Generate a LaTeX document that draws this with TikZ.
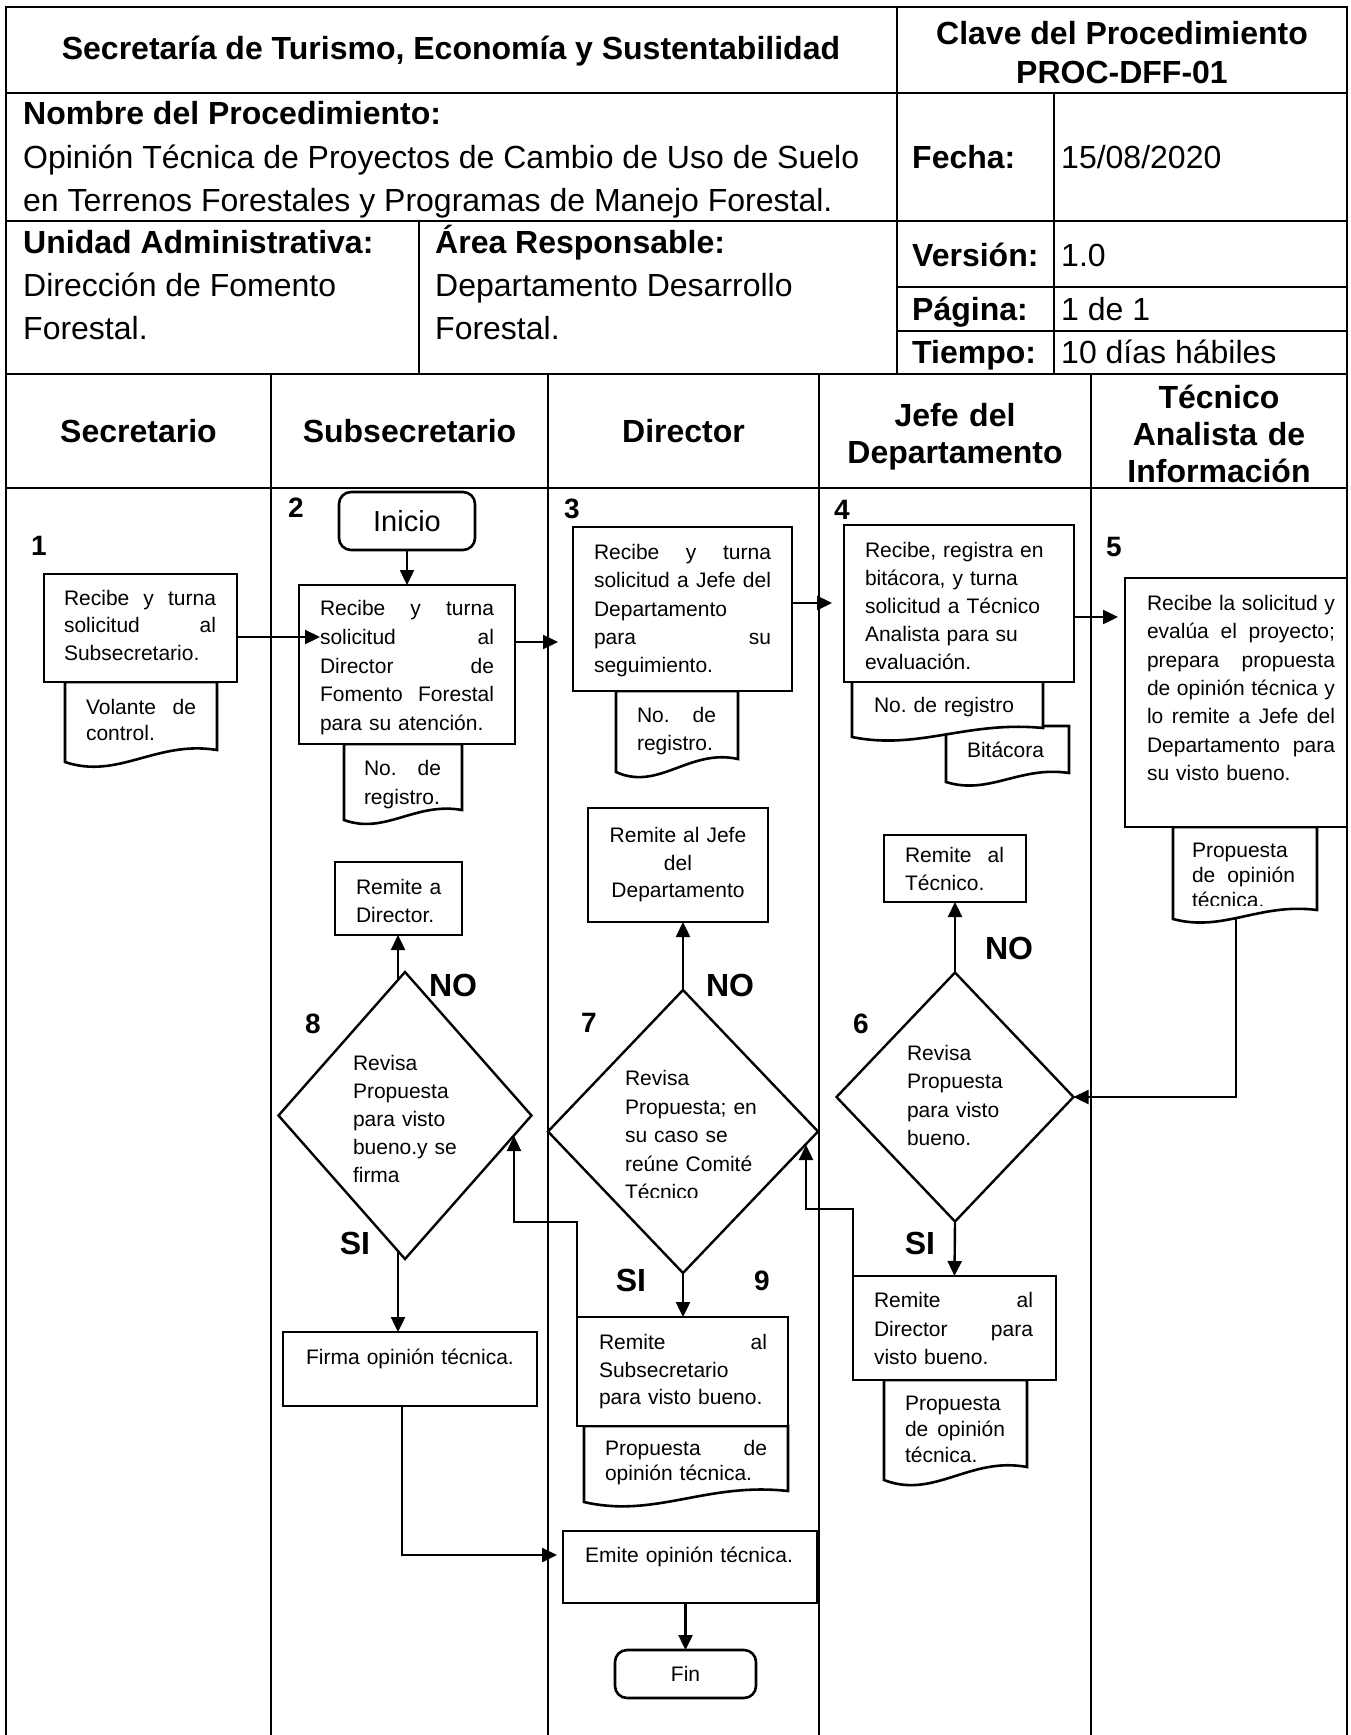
\documentclass[tikz,border=0pt]{standalone}
\usepackage{fontspec}
\setmainfont{Liberation Sans}
\usetikzlibrary{arrows.meta,shapes.geometric}
\newcommand\jl[2]{\makebox[#1][s]{\spaceskip=0.278em plus 1fil\relax\xspaceskip=0.278em plus 1fil\relax #2}}
\newcommand\docshp[5]{%
  \pgfmathsetmacro\mydw{#3-#1}%
  \draw[docst] (#1,#2) -- (#3,#2) -- (#3,{#4-#5}) .. controls ({#1+0.6*\mydw},{#4-1.83*#5}) and ({#1+0.35*\mydw},{#4+1.5*#5}) .. (#1,#4) -- cycle;}
\tikzset{
 frm/.style={line width=2.6pt},
 boxst/.style={draw, line width=2.6pt, fill=white, inner sep=0pt, outer sep=0pt},
 termst/.style={boxst, rounded corners=12pt},
 decst/.style={draw, diamond, line width=2.4pt, fill=white, inner sep=0pt, outer sep=0pt},
 docst/.style={line width=2.6pt, fill=white},
 conn/.style={line width=2.4pt},
 arr/.style={conn, -{Triangle[length=15pt,width=14pt]}},
 tx/.style={anchor=base west, inner sep=0pt, outer sep=0pt, align=left, font=\fontsize{21}{28}\selectfont},
 txc/.style={anchor=base, inner sep=0pt, outer sep=0pt, align=center, font=\fontsize{21}{28}\selectfont},
 hd/.style={anchor=base west, inner sep=0pt, font=\fontsize{32}{43}\selectfont},
 hdb/.style={anchor=base west, inner sep=0pt, font=\bfseries\fontsize{32}{43}\selectfont},
 hdc/.style={anchor=base, inner sep=0pt, font=\bfseries\fontsize{32}{43}\selectfont},
 lane/.style={anchor=base, inner sep=0pt, align=center, text width=260pt, font=\bfseries\fontsize{32}{37}\selectfont},
 num/.style={anchor=base, inner sep=0pt, font=\bfseries\fontsize{28}{30}\selectfont},
 yn/.style={anchor=base, inner sep=0pt, font=\bfseries\fontsize{32}{34}\selectfont},
}
\begin{document}
\begin{tikzpicture}[x=1pt, y=-1pt]
\useasboundingbox (0,0) rectangle (1351,1735);
% ---------- frame ----------
\draw[frm] (6,1735) -- (6,7) -- (1347,7) -- (1347,1735);
\draw[frm] (6,93) -- (1347,93);
\draw[frm] (6,221) -- (1347,221);
\draw[frm] (6,374) -- (1347,374);
\draw[frm] (6,488) -- (1347,488);
\draw[frm] (897,7) -- (897,374);
\draw[frm] (1054,93) -- (1054,374);
\draw[frm] (419,221) -- (419,374);
\draw[frm] (897,287) -- (1347,287);
\draw[frm] (897,331) -- (1347,331);
\foreach \lx in {271,548,819,1091} \draw[frm] (\lx,374) -- (\lx,1735);
% ---------- header texts ----------
\node[hdc] (h1) at (451,59) {Secretaría de Turismo, Economía y Sustentabilidad};
\node[hdc] (h2) at (1122,44) {Clave del Procedimiento};
\node[hdc] (h3) at (1122,83) {PROC-DFF-01};
\node[hdb] (h4) at (23,124) {Nombre del Procedimiento:};
\node[hd] (h5) at (23,168) {Opinión Técnica de Proyectos de Cambio de Uso de Suelo};
\node[hd] (h6) at (23,211) {en Terrenos Forestales y Programas de Manejo Forestal.};
\node[hdb] (h7) at (912,168) {Fecha:};
\node[hd] (h8) at (1061,168) {15/08/2020};
\node[hdb] (h9) at (23,253) {Unidad Administrativa:};
\node[hd] (h10) at (23,296) {Dirección de Fomento};
\node[hd] (h11) at (23,339) {Forestal.};
\node[hdb] (h12) at (435,253) {Área Responsable:};
\node[hd] (h13) at (435,296) {Departamento Desarrollo};
\node[hd] (h14) at (435,339) {Forestal.};
\node[hdb] (h15) at (912,266) {Versión:};
\node[hd] (h16) at (1061,266) {1.0};
\node[hdb] (h17) at (912,320) {Página:};
\node[hd] (h18) at (1061,320) {1 de 1};
\node[hdb] (h19) at (912,363) {Tiempo:};
\node[hd] (h20) at (1061,363) {10 días hábiles};
% ---------- lane headers ----------
\node[lane] (l1) at (138.5,442) {Secretario};
\node[lane] (l2) at (409.5,442) {Subsecretario};
\node[lane] (l3) at (683.5,442) {Director};
\node[lane] (l4) at (955,426) {Jefe del\\Departamento};
\node[lane] (l5) at (1219,408) {Técnico\\Analista de\\Información};
% ---------- numbers and labels ----------
\node[num] (n1) at (39,555) {1};
\node[num] (n2) at (296,517) {2};
\node[num] (n3) at (572,518) {3};
\node[num] (n4) at (842,519) {4};
\node[num] (n5) at (1114,556) {5};
\node[num] (n6) at (861,1033) {6};
\node[num] (n7) at (589,1032) {7};
\node[num] (n8) at (313,1033) {8};
\node[num] (n9) at (762,1290) {9};
\node[yn] (no8) at (453,996) {NO};
\node[yn] (no7) at (730,996) {NO};
\node[yn] (no6) at (1009,959) {NO};
\node[yn] (si8) at (355,1254) {SI};
\node[yn] (si7) at (631,1291) {SI};
\node[yn] (si6) at (920,1254) {SI};
% ---------- documents ----------
\docshp{65}{682}{217}{762}{12}
\docshp{344}{744}{462}{820}{10}
\docshp{616}{691}{738}{772}{13}
\docshp{946}{726}{1069}{782}{9}
\docshp{852}{681}{1043}{737}{9}
\docshp{1173}{827}{1317}{919}{9}
\docshp{884}{1380}{1027}{1480}{13}
\docshp{584}{1426}{788}{1502}{11}
% ---------- shapes ----------
\node[termst, minimum width=136pt, minimum height=58pt, font=\fontsize{29}{32}\selectfont] (ini) at (407,521) {Inicio};
\node[boxst, minimum width=193pt, minimum height=108pt] (b1) at (140.3,628) {};
\node[boxst, minimum width=216pt, minimum height=159pt] (b2) at (407,664.5) {};
\node[boxst, minimum width=219pt, minimum height=164pt] (b3) at (682.5,609) {};
\node[boxst, minimum width=230pt, minimum height=157pt] (b4) at (959,603.5) {};
\node[boxst, minimum width=222pt, minimum height=249pt] (b5) at (1236,702.5) {};
\node[boxst, minimum width=142pt, minimum height=67pt] (b6no) at (955,868.5) {};
\node[decst, minimum width=237pt, minimum height=249pt] (d6) at (955,1097) {};
\node[boxst, minimum width=203pt, minimum height=104pt] (b6si) at (954.5,1328) {};
\node[boxst, minimum width=180pt, minimum height=114pt] (b7no) at (678,865) {};
\node[decst, minimum width=270pt, minimum height=283pt] (d7) at (683,1131.5) {};
\node[boxst, minimum width=211pt, minimum height=109pt] (b9) at (682.5,1371.5) {};
\node[boxst, minimum width=127pt, minimum height=73pt] (b8no) at (398.5,898.5) {};
\node[decst, minimum width=253pt, minimum height=287pt] (d8) at (405,1115.5) {};
\node[boxst, minimum width=254pt, minimum height=74pt] (bf) at (410,1369) {};
\node[boxst, minimum width=254pt, minimum height=72pt] (be) at (690,1567) {};
\node[termst, minimum width=141pt, minimum height=48pt, font=\fontsize{21}{24}\selectfont] (fin) at (685.5,1674) {Fin};
% ---------- texts ----------
\node[tx, text width=152pt, font=\fontsize{21}{27.5}\selectfont] (t1) at (64,605) {\jl{152pt}{Recibe y turna}\\\jl{152pt}{solicitud al}\\Subsecretario.};
\node[tx, text width=110pt, font=\fontsize{21}{26}\selectfont] (td1) at (86,714.5) {\jl{110pt}{Volante de}\\control.};
\node[tx, text width=174pt, font=\fontsize{21}{28.75}\selectfont] (t2) at (320,615.5) {\jl{174pt}{Recibe y turna}\\\jl{174pt}{solicitud al}\\\jl{174pt}{Director de}\\\jl{174pt}{Fomento Forestal}\\para su atención.};
\node[tx, text width=77pt, font=\fontsize{21}{29}\selectfont] (td2) at (364,775.5) {\jl{77pt}{No.\ de}\\registro.};
\node[tx, text width=177pt, font=\fontsize{21}{28.25}\selectfont] (t3) at (594,559.5) {\jl{177pt}{Recibe y turna}\\\jl{177pt}{solicitud a Jefe del}\\Departamento\\\jl{177pt}{para su}\\seguimiento.};
\node[tx, text width=79pt, font=\fontsize{21}{28}\selectfont] (td3) at (637,722.5) {\jl{79pt}{No.\ de}\\registro.};
\node[tx, text width=205pt, font=\fontsize{21}{28}\selectfont] (t4) at (865,557.5) {Recibe, registra en\\bitácora, y turna\\solicitud a Técnico\\Analista para su\\evaluación.};
\node[tx, text width=160pt] (td4a) at (874,712.5) {No.\ de registro};
\node[tx, text width=90pt] (td4b) at (967,757.5) {Bitácora};
\node[tx, text width=188pt, font=\fontsize{21}{28.3}\selectfont] (t5) at (1147,610.5) {\jl{188pt}{Recibe la solicitud y}\\\jl{188pt}{evalúa el proyecto;}\\\jl{188pt}{prepara propuesta}\\\jl{188pt}{de opinión técnica y}\\\jl{188pt}{lo remite a Jefe del}\\\jl{188pt}{Departamento para}\\su visto bueno.};
\begin{scope}
\clip (1170,830) rectangle (1320,905);
\node[tx, text width=103pt, font=\fontsize{21}{25}\selectfont] (td5) at (1192,857.5) {Propuesta\\\jl{103pt}{de opinión}\\técnica.};
\end{scope}
\node[tx, text width=99pt] (t6no) at (905,862.5) {\jl{99pt}{Remite al}\\Técnico.};
\node[tx, text width=140pt, font=\fontsize{21}{28.3}\selectfont] (t6) at (907,1060.5) {Revisa\\Propuesta\\para visto\\bueno.};
\node[tx, text width=159pt, font=\fontsize{21}{28.5}\selectfont] (t6si) at (874,1307.5) {\jl{159pt}{Remite al}\\\jl{159pt}{Director para}\\visto bueno.};
\node[tx, text width=100pt, font=\fontsize{21}{26}\selectfont] (td6) at (905,1410.5) {Propuesta\\\jl{100pt}{de opinión}\\técnica.};
\node[txc, text width=180pt, font=\fontsize{21}{27.5}\selectfont] (t7no) at (678,842.5) {Remite al Jefe\\del\\Departamento};
\begin{scope}
\clip (600,1050) rectangle (790,1197);
\node[tx, text width=160pt, font=\fontsize{21}{28.5}\selectfont] (t7) at (625,1085.5) {Revisa\\Propuesta; en\\su caso se\\reúne Comité\\Técnico};
\end{scope}
\node[tx, text width=168pt, font=\fontsize{21}{27.5}\selectfont] (t9) at (599,1349.5) {\jl{168pt}{Remite al}\\Subsecretario\\para visto bueno.};
\node[tx, text width=162pt, font=\fontsize{21}{25}\selectfont] (td9) at (605,1455.5) {\jl{162pt}{Propuesta de}\\opinión técnica.};
\node[tx, text width=120pt] (t8no) at (356,894.5) {Remite a\\Director.};
\node[tx, text width=150pt] (t8) at (353,1070.5) {Revisa\\Propuesta\\para visto\\bueno.y se\\firma};
\node[txc, text width=250pt] (tf) at (410,1364.5) {Firma opinión técnica.};
\node[txc, text width=250pt] (te) at (689,1562.5) {Emite opinión técnica.};
% ---------- connectors ----------
\coordinate (a23) at (558,642);
\coordinate (a34) at (832,603);
\coordinate (a45) at (1118,617);
\coordinate (d5b) at (1236,918);
\coordinate (j7) at (806,1209);
\coordinate (k7) at (806,1145);
\coordinate (j8) at (514,1222);
\coordinate (k8) at (514,1136);
\coordinate (aem) at (557,1555);
\draw[arr] (ini.south) -- (b2.north);
\draw[arr] ([yshift=-9pt]b1.east) -- ([yshift=-9pt]b1.east -| t2.west);
\draw[arr] (b2.east |- a23) -- (a23);
\draw[arr] (b3.east |- a34) -- (a34);
\draw[arr] (b4.east |- a45) -- (a45);
\draw[arr] (d5b) |- (d6.east);
\draw[arr] (d6.north) -- (b6no.south);
\draw[arr] (d6.south) -- (b6si.north);
\draw[arr] (b6si.north west) |- (j7) -- (k7);
\draw[arr] (d7.north) -- (d7.north |- b7no.south);
\draw[arr] (d7.south) -- (d7.south |- b9.north);
\draw[arr] (b9.north west) |- (j8) -- (k8);
\draw[arr] ([shift={(-7pt,-8pt)}]d8.north) -- ([xshift=-7pt]d8.north |- b8no.south);
\draw[arr] ([shift={(-7pt,8pt)}]d8.south) -- ([xshift=-7pt]d8.south |- bf.north);
\draw[arr] ([xshift=-8pt]bf.south) |- (aem);
\draw[arr] (fin.north |- be.south) -- (fin.north);
\end{tikzpicture}
\end{document}
